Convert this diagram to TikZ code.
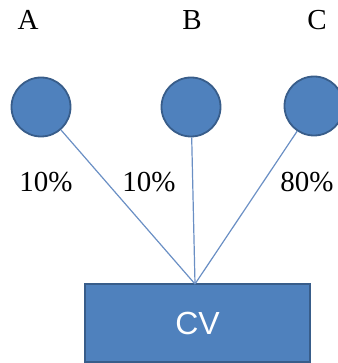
\documentclass[tikz,border=0pt]{standalone}
\usepackage{fontspec}
\setmainfont{Liberation Serif}
\newfontfamily\cvfont{Liberation Sans}
\definecolor{fillblue}{HTML}{4F81BD}
\definecolor{edgeblue}{HTML}{385D8A}
\definecolor{lineblue}{HTML}{6A8FC4}
\begin{document}
\begin{tikzpicture}[x=1pt,y=-1pt,
  ball/.style={circle,fill=fillblue,draw=edgeblue,line width=1.8pt,minimum size=59pt,inner sep=0pt},
  boxnode/.style={rectangle,fill=fillblue,draw=edgeblue,line width=1.5pt,minimum width=225pt,minimum height=78pt,inner sep=0pt,text=white,font=\cvfont\fontsize{32}{34}\selectfont},
  lbl/.style={inner sep=0pt,font=\fontsize{29}{31}\selectfont},
  link/.style={draw=lineblue,line width=1.2pt}]
\useasboundingbox (0,0) rectangle (337,363);
\node[lbl] (la) at (28,20) {A};
\node[lbl] (lb) at (192,20) {B};
\node[lbl] (lc) at (317,20) {C};
\node[ball] (a) at (41,107) {};
\node[ball] (b) at (191,107) {};
\node[ball] (c) at (314,106) {};
\node[boxnode] (cv) at (197.5,323) {CV};
\coordinate (m) at (195,284);
\draw[link] (a) -- (m);
\draw[link] (b) -- (m);
\draw[link] (c) -- (m);
\node[lbl] (p1) at (46,182) {10\%};
\node[lbl] (p2) at (149,182) {10\%};
\node[lbl] (p3) at (307,182) {80\%};
\end{tikzpicture}
\end{document}
